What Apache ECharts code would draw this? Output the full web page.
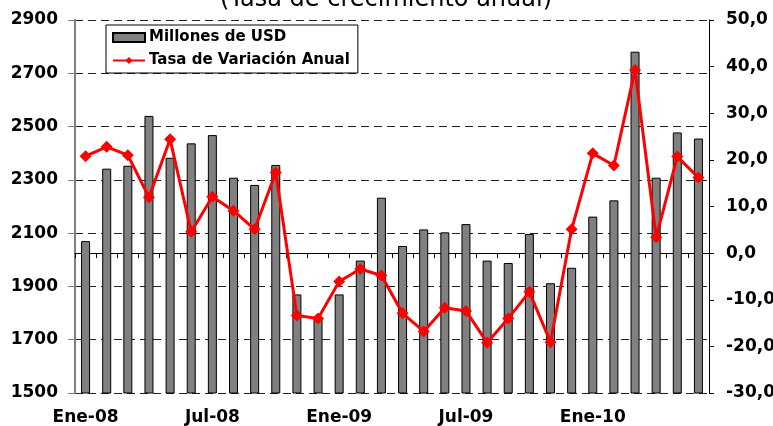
<!DOCTYPE html>
<html>
<head>
<meta charset="utf-8">
<script src="https://cdn.jsdelivr.net/npm/echarts@6/dist/echarts.min.js"></script>
<style>
  html, body { margin: 0; padding: 0; background: #fff; }
  #chart { width: 773px; height: 426px; }
</style>
</head>
<body>
<div id="chart"></div>
<script>
// meses ene-08 .. jun-10
var months = ['Ene', 'Feb', 'Mar', 'Abr', 'May', 'Jun', 'Jul', 'Ago', 'Sep', 'Oct', 'Nov', 'Dic'];
var categories = [];
for (var y = 8; y <= 10; y++) {
    for (var m = 0; m < 12; m++) {
        if (y === 10 && m > 5) break;
        categories.push(months[m] + '-' + (y < 10 ? '0' + y : y));
    }
}

var millonesUSD = [2070, 2342, 2353, 2540, 2383, 2437, 2468, 2308, 2281, 2356,
                   1870, 1785, 1870, 1997, 2233, 2052, 2114, 2103, 2134, 1997,
                   1988, 2097, 1912, 1970, 2162, 2223, 2781, 2308, 2478, 2455];

var tasaVariacion = [20.8, 22.8, 21.0, 12.0, 24.4, 4.6, 12.1, 9.1, 5.1, 17.3,
                     -13.4, -14.0, -6.1, -3.4, -4.8, -12.9, -16.8, -11.7, -12.4, -19.2,
                     -14.0, -8.3, -19.1, 5.1, 21.4, 18.8, 39.3, 3.4, 20.7, 16.2];

var chart = echarts.init(document.getElementById('chart'));

var labelFont = {
    color: '#000',
    fontFamily: 'DejaVu Sans, sans-serif',
    fontWeight: 'bold',
    fontSize: 17
};

var option = {
    animation: false,
    // titulo cortado arriba, como en el original
    graphic: [{
        type: 'text',
        x: 386,
        y: 12,
        style: {
            text: '(Tasa de crecimiento anual)',
            align: 'center',
            verticalAlign: 'bottom',
            fontFamily: 'DejaVu Sans, sans-serif',
            fontWeight: 'normal',
            fontSize: 24,
            fill: '#000'
        }
    }],
    legend: {
        orient: 'vertical',
        left: 106,
        top: 25,
        padding: [5, 8, 5, 6],
        itemGap: 8,
        itemWidth: 32,
        itemHeight: 9,
        backgroundColor: '#fff',
        borderColor: '#000',
        borderWidth: 1,
        textStyle: {
            color: '#000',
            fontFamily: 'DejaVu Sans, sans-serif',
            fontWeight: 'bold',
            fontSize: 15,
            padding: [0, 0, 0, -1]
        },
        data: [
            { name: 'Millones de USD', icon: 'rect' },
            { name: 'Tasa de Variación Anual' }
        ]
    },
    grid: {
        left: 75,
        right: 64,
        top: 20,
        bottom: 33,
        outerBoundsMode: 'none'
    },
    xAxis: {
        type: 'category',
        data: categories,
        boundaryGap: true,
        axisLine: { lineStyle: { color: '#000', width: 1 } },
        axisTick: {
            show: true,
            interval: 0,
            length: 5,
            lineStyle: { color: '#000' }
        },
        axisLabel: Object.assign({ interval: 5, margin: 16 }, labelFont)
    },
    yAxis: [
        {
            type: 'value',
            min: 1500,
            max: 2900,
            interval: 200,
            axisLine: { show: true, lineStyle: { color: '#808080', width: 2 } },
            axisTick: { show: true, length: 7, lineStyle: { color: '#808080' } },
            axisLabel: Object.assign({
                margin: 17,
                formatter: function (v) { return String(v); }
            }, labelFont),
            splitLine: {
                show: true,
                lineStyle: { color: '#222', type: [8, 5], width: 1 }
            }
        },
        {
            type: 'value',
            min: -30,
            max: 50,
            interval: 10,
            axisLine: { show: true, lineStyle: { color: '#000', width: 1 } },
            axisTick: { show: true, length: 5, lineStyle: { color: '#000' } },
            axisLabel: Object.assign({
                margin: 17,
                formatter: function (v) { return v.toFixed(1).replace('.', ','); }
            }, labelFont),
            splitLine: { show: false }
        }
    ],
    series: [
        {
            name: 'Millones de USD',
            type: 'bar',
            yAxisIndex: 0,
            barWidth: 9,
            data: millonesUSD,
            itemStyle: {
                color: '#808080',
                borderColor: '#000',
                borderWidth: 1
            }
        },
        {
            name: 'Tasa de Variación Anual',
            type: 'line',
            yAxisIndex: 1,
            data: tasaVariacion,
            symbol: 'diamond',
            symbolSize: 12,
            lineStyle: { color: '#ff0000', width: 3 },
            itemStyle: { color: '#ff0000' }
        }
    ]
};

chart.setOption(option);
</script>
</body>
</html>
